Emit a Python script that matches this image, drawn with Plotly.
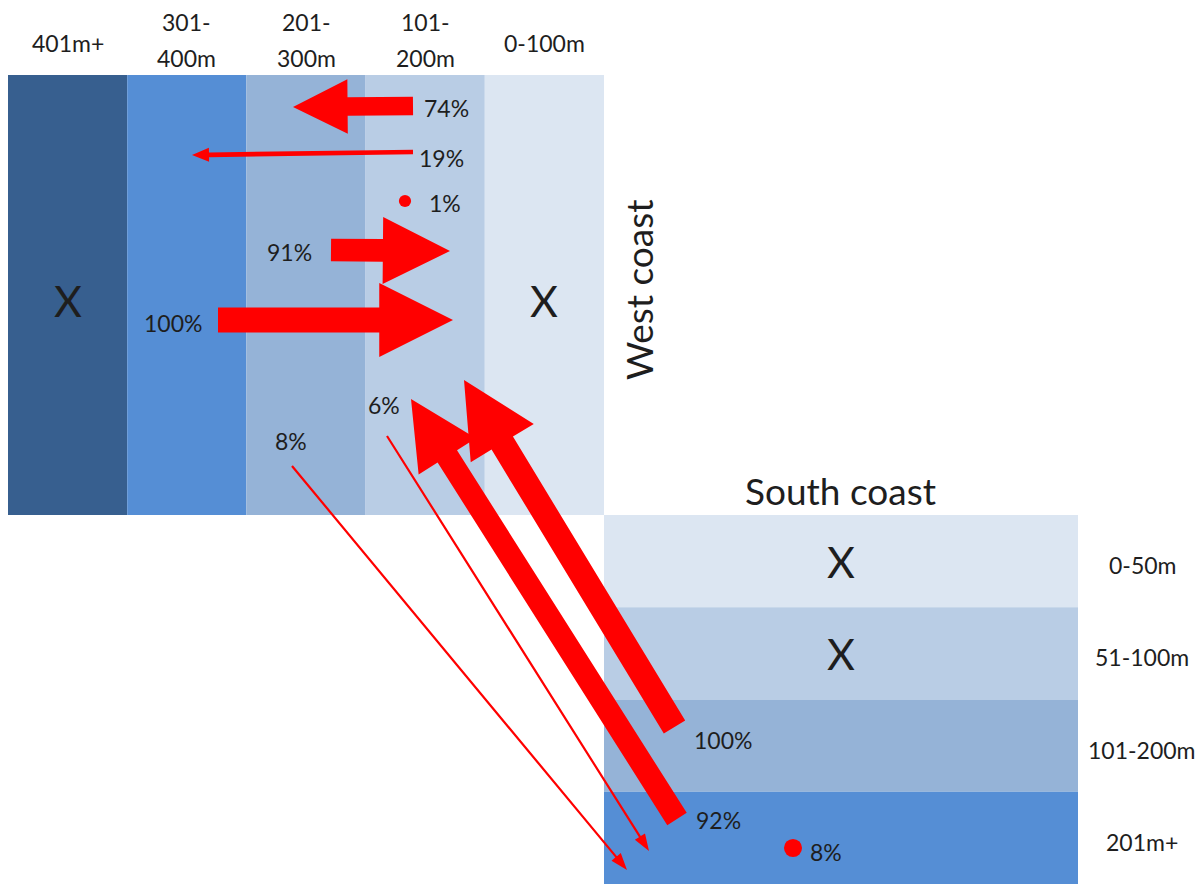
import math
import plotly.graph_objects as go

# ---------------- data ----------------
west_band_labels = [["401m+"], ["301-", "400m"], ["201-", "300m"], ["101-", "200m"], ["0-100m"]]
west_band_colors = ["#375F8F", "#558ED5", "#95B3D7", "#B9CDE5", "#DCE6F2"]
west_band_marks = ["X", "", "", "", "X"]

south_band_labels = ["0-50m", "51-100m", "101-200m", "201m+"]
south_band_colors = ["#DCE6F2", "#B9CDE5", "#95B3D7", "#558ED5"]
south_band_marks = ["X", "X", "", ""]

# movement percentages (west coast flows, then south coast flows)
west_flow_pcts = [74, 19, 91, 100]
west_stay_pct = 1
south_flow_pcts = [100, 92, 6, 8]
south_stay_pct = 8

# ---------------- layout geometry (plot units = pixels of the page) ----------------
W, H = 1204, 884
OFF = 8  # page body margin
west_x0, col_w = 8, 119.2
west_top, west_bot = 75, 515
south_x0, south_x1 = 604, 1078
row_h = (884 - 515) / 4.0

# arrows: (tail, tip) in plot units, one per flow, same order as pct lists
west_flow_ends = [((413, 106), (293, 107)),
                  ((413, 152), (192, 155)),
                  ((331, 250), (450, 251)),
                  ((218, 320), (453, 320))]
west_flow_label_pos = [(446, 108), (441, 158), (289, 252), (173, 323)]
west_stay_pos, west_stay_label_pos = (405, 201), (445, 203)

south_flow_ends = [((674.5, 727), (464, 380)),
                   ((677, 819), (411, 399)),
                   ((387, 436), (649, 851)),
                   ((292, 466), (627, 870))]
south_flow_label_pos = [(723, 740), (718, 820), (384, 405), (291, 441)]
south_stay_pos, south_stay_label_pos = (793, 848), (826, 852)

RED = "#FF0000"
FONT = "Lato"
TXT = "#1e1e1e"
LAB = 23


def arrow_path(tail, tip, pct):
    shaft = max(0.25 * pct, 2.2)
    head_w = max(2.95 * shaft, 12)
    head_len = max(2.95 * shaft, 17)
    (tx, ty), (hx, hy) = tail, tip
    dx, dy = hx - tx, hy - ty
    L = math.hypot(dx, dy)
    ux, uy = dx / L, dy / L
    px, py = -uy, ux
    bx, by = hx - ux * head_len, hy - uy * head_len
    pts = [
        (tx + px * shaft / 2, ty + py * shaft / 2),
        (bx + px * shaft / 2, by + py * shaft / 2),
        (bx + px * head_w / 2, by + py * head_w / 2),
        (hx, hy),
        (bx - px * head_w / 2, by - py * head_w / 2),
        (bx - px * shaft / 2, by - py * shaft / 2),
        (tx - px * shaft / 2, ty - py * shaft / 2),
    ]
    return "M " + " L ".join(f"{x:.2f},{y:.2f}" for x, y in pts) + " Z"


shapes = []
annotations = []


def text(x, y, s, size, angle=0):
    annotations.append(dict(x=x, y=y, xref="x", yref="y", text=s, showarrow=False,
                            font=dict(family=FONT, size=size, color=TXT),
                            textangle=angle, xanchor="center", yanchor="middle"))


def dot(pos, pct):
    r = 4.5 + 1.6 * pct ** 0.5
    shapes.append(dict(type="circle", xref="x", yref="y",
                       x0=pos[0] - r, x1=pos[0] + r, y0=pos[1] - r, y1=pos[1] + r,
                       fillcolor=RED, line=dict(width=0)))


# west coast columns
for i, (lab, col, mark) in enumerate(zip(west_band_labels, west_band_colors, west_band_marks)):
    x0 = west_x0 + i * col_w
    x1 = x0 + col_w
    shapes.append(dict(type="rect", xref="x", yref="y", x0=x0, x1=x1, y0=west_top, y1=west_bot,
                       fillcolor=col, line=dict(width=0), layer="below"))
    cx = (x0 + x1) / 2
    if len(lab) == 1:
        text(cx, 43, lab[0], LAB)
    else:
        text(cx, 22, lab[0], LAB)
        text(cx, 58, lab[1], LAB)
    if mark:
        text(cx, 300, mark, 43)

# south coast rows
for j, (lab, col, mark) in enumerate(zip(south_band_labels, south_band_colors, south_band_marks)):
    y0 = west_bot + j * row_h
    y1 = y0 + row_h
    shapes.append(dict(type="rect", xref="x", yref="y", x0=south_x0, x1=south_x1, y0=y0, y1=y1,
                       fillcolor=col, line=dict(width=0), layer="below"))
    cy = (y0 + y1) / 2
    text(1142, cy + 4, lab, LAB)
    if mark:
        text((south_x0 + south_x1) / 2, cy, mark, 43)

text(638, 290, "West coast", 37, angle=-90)
text(840, 490, "South coast", 37)

# flows
for pct, (tail, tip), lp in zip(west_flow_pcts, west_flow_ends, west_flow_label_pos):
    shapes.append(dict(type="path", xref="x", yref="y", path=arrow_path(tail, tip, pct),
                       fillcolor=RED, line=dict(width=0)))
    text(lp[0], lp[1], f"{pct}%", LAB)
for pct, (tail, tip), lp in zip(south_flow_pcts, south_flow_ends, south_flow_label_pos):
    shapes.append(dict(type="path", xref="x", yref="y", path=arrow_path(tail, tip, pct),
                       fillcolor=RED, line=dict(width=0)))
    text(lp[0], lp[1], f"{pct}%", LAB)

# "stay" dots
dot(west_stay_pos, west_stay_pct)
dot(south_stay_pos, south_stay_pct)
text(west_stay_label_pos[0], west_stay_label_pos[1], f"{west_stay_pct}%", LAB)
text(south_stay_label_pos[0], south_stay_label_pos[1], f"{south_stay_pct}%", LAB)

fig = go.Figure()
fig.update_layout(
    width=W - OFF, height=H - OFF, margin=dict(l=0, r=0, t=0, b=0),
    paper_bgcolor="white", plot_bgcolor="white",
    xaxis=dict(range=[OFF, W], visible=False, fixedrange=True),
    yaxis=dict(range=[H, OFF], visible=False, fixedrange=True),
    shapes=shapes, annotations=annotations, showlegend=False,
)
fig.write_html("out.html")
